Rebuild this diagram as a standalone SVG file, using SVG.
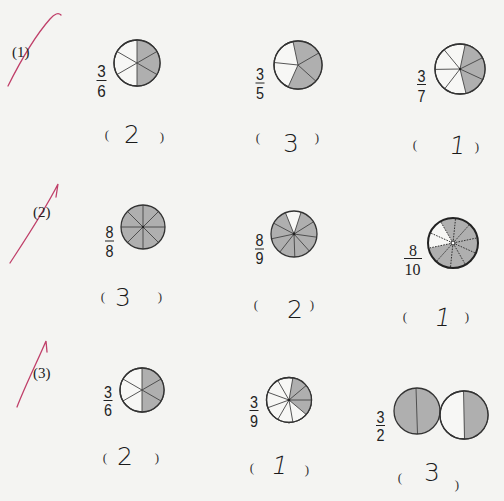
<svg xmlns="http://www.w3.org/2000/svg" width="504" height="501" viewBox="0 0 504 501">
<style>
.bg{fill:#f4f4f2}
.c{fill:#f7f7f5;stroke:#333;stroke-width:1.3}
.o{fill:none;stroke:#333;stroke-width:1.3}
.s{fill:#afafaf}
.w{fill:#f7f7f5}
.l{stroke:#444;stroke-width:0.9;fill:none}
.d{stroke:#333;stroke-width:1;stroke-dasharray:1.6 1.2;fill:none}
.fr{font-family:"Liberation Sans",Arial,sans-serif;font-size:17px;fill:#222;text-anchor:middle}
.frs{font-family:"Liberation Serif","Times New Roman",serif;font-size:16px;fill:#222;text-anchor:middle}
.bar{stroke:#222;stroke-width:1}
.lab{font-family:"Liberation Serif","Times New Roman",serif;font-size:15px;fill:#222}
.p{font-family:"Liberation Serif","Times New Roman",serif;font-size:13px;fill:#333;text-anchor:middle}
.h{font-family:"DejaVu Sans","Liberation Sans",sans-serif;font-size:25px;fill:#1a1a1a;text-anchor:middle;font-weight:300}
.chk{fill:none;stroke:#c0406a;stroke-width:1.3;stroke-linecap:round}
</style>
<rect class="bg" x="0" y="0" width="504" height="501"/>

<g id="marks">
<path class="chk" d="M8,86 C20,62 35,36 50,19 Q57,11 61,15"/>
<path class="chk" d="M10,263 C25,240 45,210 58,184 L56,197"/>
<path class="chk" d="M17,407 C25,386 38,360 46,341 L47,352"/>
</g>

<g id="labels">
<text class="lab" x="12" y="57">(1)</text>
<text class="lab" x="33" y="217">(2)</text>
<text class="lab" x="33" y="378">(3)</text>
</g>

<!-- Row 1 -->
<g id="q1a">
<circle class="c" cx="137" cy="63" r="23"/>
<path class="s" d="M137,63 L137,40 A23,23 0 0 1 137,86 Z"/>
<path class="l" d="M137,40 L137,86 M137,63 L156.9,51.5 M137,63 L156.9,74.5 M137,63 L117.1,51.5 M137,63 L117.1,74.5"/>
<circle class="o" cx="137" cy="63" r="23"/>
<text class="fr" x="101.5" y="76.5" textLength="8.5" lengthAdjust="spacingAndGlyphs">3</text>
<line class="bar" x1="96.5" y1="80.5" x2="106.5" y2="80.5"/>
<text class="fr" x="101.5" y="96.5" textLength="8.5" lengthAdjust="spacingAndGlyphs">6</text>
<text class="p" x="107" y="139">(</text>
<text class="h" x="132" y="143">2</text>
<text class="p" x="162" y="141">)</text>
</g>

<g id="q1b">
<circle class="c" cx="298" cy="65" r="24"/>
<path class="s" d="M298,65 L293,41.5 A24,24 0 1 1 288.2,86.9 Z"/>
<path class="l" d="M298,65 L293,41.5 M298,65 L318.8,53 M298,65 L315.8,81.1 M298,65 L288.2,86.9 M298,65 L274.1,62.5"/>
<circle class="o" cx="298" cy="65" r="24"/>
<text class="fr" x="260" y="79.5" textLength="8" lengthAdjust="spacingAndGlyphs">3</text>
<line class="bar" x1="255.5" y1="83" x2="264.5" y2="83"/>
<text class="fr" x="260" y="98.5" textLength="8" lengthAdjust="spacingAndGlyphs">5</text>
<text class="p" x="258" y="142">(</text>
<text class="h" x="291" y="152">3</text>
<text class="p" x="317" y="142">)</text>
</g>

<g id="q1c">
<circle class="c" cx="460" cy="69" r="25"/>
<path class="s" d="M460,69 L465.2,44.5 A25,25 0 0 1 466,93.3 Z"/>
<path class="l" d="M460,69 L465.2,44.5 M460,69 L482.4,57.8 M460,69 L482.7,79.5 M460,69 L466,93.3 M460,69 L444.7,88.8 M460,69 L435,69.4 M460,69 L444.1,49.7"/>
<circle class="o" cx="460" cy="69" r="25"/>
<circle cx="460" cy="69" r="1.2" fill="#222"/>
<text class="fr" x="421.5" y="81.5" textLength="8" lengthAdjust="spacingAndGlyphs">3</text>
<line class="bar" x1="417" y1="84.5" x2="426" y2="84.5"/>
<text class="fr" x="421.5" y="101.5" textLength="8" lengthAdjust="spacingAndGlyphs">7</text>
<text class="p" x="415" y="149">(</text>
<text class="h" x="458" y="154" font-size="21" transform="skewX(-8) translate(20,0)">1</text>
<text class="p" x="477" y="151">)</text>
</g>

<!-- Row 2 -->
<g id="q2a">
<circle class="s" cx="143" cy="227" r="22"/>
<path class="l" d="M121,227 L165,227 M143,205 L143,249 M127.4,211.4 L158.6,242.6 M158.6,211.4 L127.4,242.6"/>
<circle class="o" cx="143" cy="227" r="22"/>
<circle cx="143" cy="227" r="1.2" fill="#222"/>
<text class="fr" x="109.5" y="238" textLength="8" lengthAdjust="spacingAndGlyphs">8</text>
<line class="bar" x1="105" y1="241" x2="114" y2="241"/>
<text class="fr" x="109.5" y="256.5" textLength="8" lengthAdjust="spacingAndGlyphs">8</text>
<text class="p" x="103" y="301">(</text>
<text class="h" x="123" y="306">3</text>
<text class="p" x="160" y="301">)</text>
</g>

<g id="q2b">
<circle class="s" cx="294" cy="234" r="23"/>
<path class="w" d="M294,234 L285.4,212.7 A23,23 0 0 1 301.1,212.1 Z"/>
<path class="l" d="M294,234 L285.4,212.7 M294,234 L301.1,212.1 M294,234 L313.5,221.8 M294,234 L316.8,237.2 M294,234 L309.4,251.1 M294,234 L294.8,257 M294,234 L279.8,252.1 M294,234 L271.5,238.8 M294,234 L273.7,223.2"/>
<circle class="o" cx="294" cy="234" r="23"/>
<circle cx="294" cy="234" r="1.4" fill="#222"/>
<text class="fr" x="259.5" y="245.5" textLength="8" lengthAdjust="spacingAndGlyphs">8</text>
<line class="bar" x1="255" y1="249" x2="264" y2="249"/>
<text class="fr" x="259.5" y="264" textLength="8" lengthAdjust="spacingAndGlyphs">9</text>
<text class="p" x="256" y="309">(</text>
<text class="h" x="295" y="318">2</text>
<text class="p" x="312" y="309">)</text>
</g>

<g id="q2c">
<circle class="s" cx="453" cy="243" r="25"/>
<path class="w" d="M453,243 L428.5,248.2 A25,25 0 0 1 440.5,221.4 Z"/>
<path class="d" d="M453,243 L428.5,248.2 M453,243 L430.2,232.8 M453,243 L440.5,221.4 M453,243 L455.6,218.1 M453,243 L469.7,224.4 M453,243 L477.5,237.8 M453,243 L475.8,253.2 M453,243 L465.5,264.7 M453,243 L450.4,267.9 M453,243 L436.3,261.6"/>
<circle cx="453" cy="243" r="25" fill="none" stroke="#222" stroke-width="2"/>
<circle cx="453" cy="243" r="2" fill="#fff" stroke="#222" stroke-width="1"/>
<text class="frs" x="413" y="255.5">8</text>
<line class="bar" x1="404" y1="258.5" x2="422" y2="258.5"/>
<text class="frs" x="412.5" y="274.5">10</text>
<text class="p" x="405" y="321">(</text>
<text class="h" x="442" y="326" font-size="22" transform="skewX(-10) translate(57,0)">1</text>
<text class="p" x="467" y="321">)</text>
</g>

<!-- Row 3 -->
<g id="q3a">
<circle class="c" cx="142" cy="390" r="22"/>
<path class="s" d="M142,390 L142,368 A22,22 0 0 1 142,412 Z"/>
<path class="l" d="M142,368 L142,412 M142,390 L161.05,379 M142,390 L161.05,401 M142,390 L122.95,379 M142,390 L122.95,401"/>
<circle class="o" cx="142" cy="390" r="22"/>
<text class="fr" x="108" y="397.5" textLength="8" lengthAdjust="spacingAndGlyphs">3</text>
<line class="bar" x1="103.5" y1="400.5" x2="112.5" y2="400.5"/>
<text class="fr" x="108" y="416" textLength="8" lengthAdjust="spacingAndGlyphs">6</text>
<text class="p" x="105" y="462">(</text>
<text class="h" x="125" y="465" font-size="21">2</text>
<text class="p" x="157" y="462">)</text>
</g>

<g id="q3b">
<circle class="c" cx="289" cy="400" r="22.5"/>
<path class="s" d="M289,400 L292.9,377.8 A22.5,22.5 0 0 1 306.2,414.5 Z"/>
<path class="l" d="M289,400 L292.9,377.8 M289,400 L306.2,385.5 M289,400 L311.5,400 M289,400 L306.2,414.5 M289,400 L292.9,422.2 M289,400 L277.75,419.5 M289,400 L267.9,407.7 M289,400 L267.9,392.3 M289,400 L277.75,380.5"/>
<circle class="o" cx="289" cy="400" r="22.5"/>
<circle cx="289" cy="400" r="1.3" fill="#222"/>
<text class="fr" x="254" y="407.5" textLength="8" lengthAdjust="spacingAndGlyphs">3</text>
<line class="bar" x1="249.5" y1="410.5" x2="258.5" y2="410.5"/>
<text class="fr" x="254" y="426.5" textLength="8" lengthAdjust="spacingAndGlyphs">9</text>
<text class="p" x="252" y="472">(</text>
<text class="h" x="279" y="474" font-size="17" transform="skewX(-12) translate(100,0)">1</text>
<text class="p" x="307" y="474">)</text>
</g>

<g id="q3c">
<circle class="s" cx="417" cy="411" r="23"/>
<line class="l" x1="416" y1="388" x2="417.5" y2="434"/>
<circle class="o" cx="417" cy="411" r="23"/>
<circle class="c" cx="464" cy="415" r="24"/>
<path class="s" d="M464,391 A24,24 0 0 1 464,439 Z"/>
<line class="l" x1="463.5" y1="391" x2="464.5" y2="439"/>
<circle class="o" cx="464" cy="415" r="24"/>
<text class="fr" x="380.5" y="422.5" textLength="8" lengthAdjust="spacingAndGlyphs">3</text>
<line class="bar" x1="376" y1="425.5" x2="385" y2="425.5"/>
<text class="fr" x="380.5" y="441" textLength="8" lengthAdjust="spacingAndGlyphs">2</text>
<text class="p" x="400" y="482">(</text>
<text class="h" x="432" y="481">3</text>
<text class="p" x="457" y="489">)</text>
</g>
</svg>
